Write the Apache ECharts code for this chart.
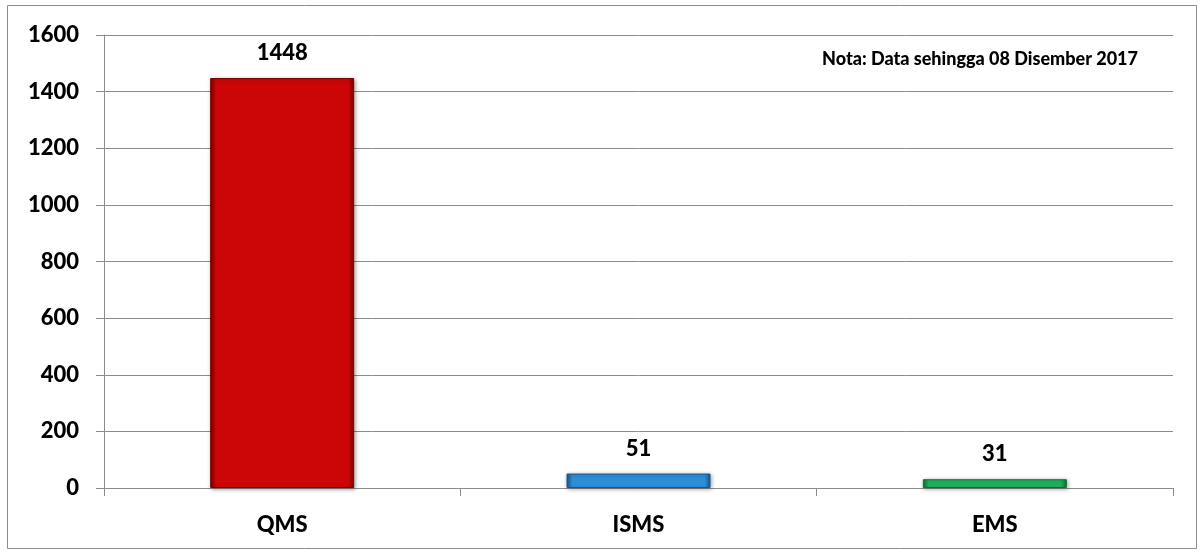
<!DOCTYPE html>
<html>
<head>
<meta charset="utf-8">
<script src="https://cdn.jsdelivr.net/npm/echarts@6/dist/echarts.min.js"></script>
<style>
  html, body { margin: 0; padding: 0; background: #ffffff; }
  #chart { width: 1202px; height: 551px; }
</style>
</head>
<body>
<div id="chart"></div>
<script>
// Certification counts by management system standard
const categories = ['QMS', 'ISMS', 'EMS'];
const counts = [1448, 51, 31];
const yTicks = [0, 200, 400, 600, 800, 1000, 1200, 1400, 1600];
const note = 'Nota: Data sehingga 08 Disember 2017';

// Bevelled bar fills: [edge shade, body, highlight]
const palettes = [
  ['#7a0000', '#cc0606', '#ee4a4a'],
  ['#17588f', '#2e8fd8', '#74c8f7'],
  ['#0d7036', '#1fb35e', '#64de93']
];

function bevel(p) {
  return {
    type: 'linear', x: 0, y: 0, x2: 1, y2: 0,
    colorStops: [
      { offset: 0, color: p[0] },
      { offset: 0.04, color: p[1] },
      { offset: 0.5, color: p[1] },
      { offset: 0.96, color: p[1] },
      { offset: 1, color: p[0] }
    ]
  };
}

const font = 'Lato, "Open Sans", "Liberation Sans", sans-serif';
const weight = 900;

const chart = echarts.init(document.getElementById('chart'));
chart.setOption({
  animation: false,
  backgroundColor: '#ffffff',
  grid: { left: 104, right: 29, top: 35, bottom: 63, containLabel: false },
  graphic: [
    {
      type: 'rect', silent: true, z: -1,
      shape: { x: 7.5, y: 5.5, width: 1189, height: 543 },
      style: { fill: 'none', stroke: '#8c8c8c', lineWidth: 1 }
    },
    {
      type: 'text', right: 64, top: 50,
      style: { text: note, font: weight + ' 18px ' + font, fill: '#000000' }
    }
  ],
  xAxis: {
    type: 'category',
    data: categories,
    axisLine: { lineStyle: { color: '#8c8c8c', width: 1 } },
    axisTick: { show: true, length: 8, alignWithLabel: false, lineStyle: { color: '#8c8c8c' } },
    axisLabel: { margin: 26, fontFamily: font, fontWeight: weight, fontSize: 22, color: '#000000' }
  },
  yAxis: {
    type: 'value',
    min: yTicks[0],
    max: yTicks[yTicks.length - 1],
    interval: yTicks[1] - yTicks[0],
    axisLine: { show: true, lineStyle: { color: '#8c8c8c', width: 1 } },
    axisTick: { show: true, length: 8, lineStyle: { color: '#8c8c8c' } },
    axisLabel: {
      margin: 25, fontFamily: font, fontWeight: weight, fontSize: 22, color: '#000000',
      formatter: v => String(v)
    },
    splitLine: { show: true, lineStyle: { color: '#8c8c8c', width: 1 } }
  },
  series: [{
    type: 'bar',
    barWidth: 144,
    data: counts.map((v, i) => ({
      value: v,
      itemStyle: {
        color: bevel(palettes[i]),
        borderColor: palettes[i][0],
        borderWidth: 1,
        shadowColor: 'rgba(0,0,0,0.35)',
        shadowBlur: 4,
        shadowOffsetX: 1,
        shadowOffsetY: 1
      }
    })),
    label: {
      show: true, position: 'top', distance: 14,
      fontFamily: font, fontWeight: weight, fontSize: 22, color: '#000000'
    }
  }]
});
</script>
</body>
</html>
